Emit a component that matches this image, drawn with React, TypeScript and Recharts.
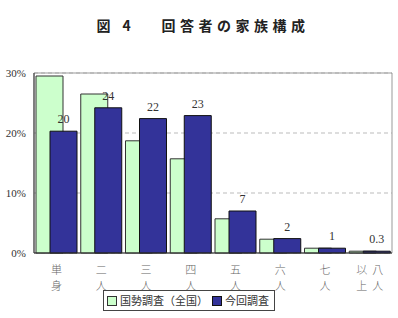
import {
  Bar,
  BarChart,
  CartesianGrid,
  LabelList,
  Legend,
  ReferenceArea,
  XAxis,
  YAxis,
} from "recharts";

const categories = ["単身", "二人", "三人", "四人", "五人", "六人", "七人", "八人以上"];
const censusValues = [29.5, 26.5, 18.7, 15.7, 5.7, 2.3, 0.8, 0.3];
const surveyValues = [20.3, 24.2, 22.4, 22.9, 7.0, 2.4, 0.8, 0.3];
const surveyLabels = ["20", "24", "22", "23", "7", "2", "1", "0.3"];
const yTicks = [0, 10, 20, 30];

const data = categories.map((name, i) => ({
  name,
  census: censusValues[i],
  survey: surveyValues[i],
  label: surveyLabels[i],
}));

const cjk = '"Noto Sans CJK JP", sans-serif';
const serif = '"Liberation Serif", "Times New Roman", serif';

function CategoryTick(props: any) {
  const { x, y, payload } = props;
  const chars: string[] = Array.from(payload.value as string);
  // vertical writing: columns of two characters, right to left
  const cols: string[][] = [];
  for (let i = 0; i < chars.length; i += 2) cols.push(chars.slice(i, i + 2));
  const step = 16;
  const startX = x + ((cols.length - 1) * step) / 2;
  return (
    <g>
      {cols.map((col, ci) =>
        col.map((ch, ri) => (
          <text
            key={ci + "-" + ri}
            x={startX - ci * step}
            y={y + 13 + ri * 16}
            textAnchor="middle"
            fontFamily={cjk}
            fontSize={11}
            fontWeight={300}
            fill="#666"
          >
            {ch}
          </text>
        ))
      )}
    </g>
  );
}

function LegendBox() {
  return (
    <div
      style={{
        display: "inline-flex",
        alignItems: "center",
        border: "1px solid #444",
        padding: "1px 5px 1px 3px",
        fontFamily: cjk,
        fontSize: 11,
        color: "#333",
        lineHeight: "17px",
        background: "#fff",
      }}
    >
      <span style={{ width: 8, height: 8, background: "#ccffcc", border: "1px solid #333", marginRight: 3 }} />
      <span style={{ marginRight: 4 }}>国勢調査（全国）</span>
      <span style={{ width: 8, height: 8, background: "#333399", border: "1px solid #111", marginRight: 3 }} />
      <span>今回調査</span>
    </div>
  );
}

export default function App() {
  return (
    <div style={{ position: "absolute", left: 0, top: 0, width: 398, height: 318, background: "#fff" }}>
      <div
        style={{
          position: "absolute",
          top: 15,
          left: 4,
          width: 398,
          textAlign: "center",
          fontFamily: cjk,
          fontWeight: 700,
          fontSize: 14,
          letterSpacing: 4.5,
          color: "#222",
        }}
      >
        図 4　 回答者の家族構成
      </div>
      <BarChart
        width={398}
        height={318}
        data={data}
        margin={{ top: 73, right: 6, bottom: 0, left: 0 }}
        barGap={-13}
        barCategoryGap={2}
        barSize={27}
      >
        <CartesianGrid vertical={false} stroke="#bbb" strokeDasharray="4 3" />
        <ReferenceArea y1={0} y2={30} fill="none" stroke="#999" strokeWidth={1} ifOverflow="visible" />
        <XAxis
          dataKey="name"
          height={37}
          tick={<CategoryTick />}
          tickLine={false}
          axisLine={{ stroke: "#333" }}
          interval={0}
        />
        <YAxis
          domain={[0, 30]}
          ticks={yTicks}
          tickFormatter={(v) => `${v}%`}
          width={34}
          tickLine={false}
          axisLine={{ stroke: "#333" }}
          tick={{ fontFamily: serif, fontSize: 11, fill: "#333" }}
        />
        <Legend verticalAlign="bottom" height={28} content={() => (
          <div style={{ textAlign: "center", paddingRight: 14 }}>
            <LegendBox />
          </div>
        )} />
        <Bar dataKey="census" name="国勢調査(全国)" fill="#ccffcc" stroke="#333" strokeWidth={1} isAnimationActive={false} />
        <Bar dataKey="survey" name="今回調査" fill="#333399" stroke="#111" strokeWidth={1} isAnimationActive={false}>
          <LabelList dataKey="label" position="top" offset={8} fontFamily={serif} fontSize={12} fill="#333" />
        </Bar>
      </BarChart>
    </div>
  );
}
